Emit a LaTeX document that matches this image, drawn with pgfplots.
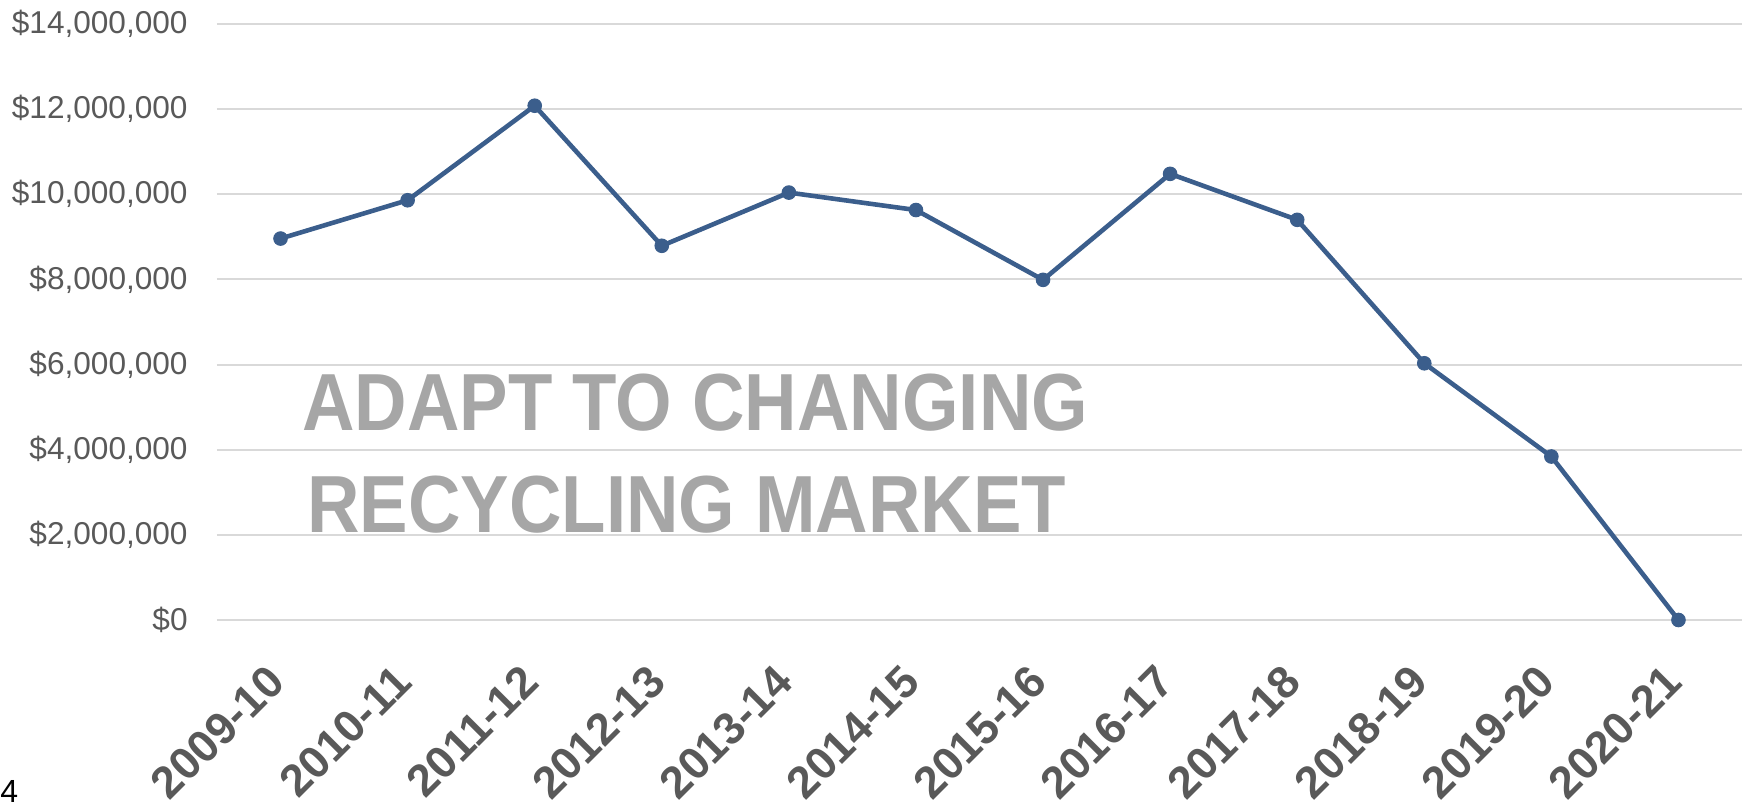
\documentclass[border=0pt]{standalone}
\usepackage{pgfplots}
\pgfplotsset{compat=1.18}
\usepackage{fontspec}
\setmainfont{Liberation Sans}
\definecolor{linec}{RGB}{59,94,140}
\definecolor{gridc}{RGB}{217,217,217}
\definecolor{labc}{RGB}{89,89,89}
\definecolor{wmc}{RGB}{166,166,166}
\begin{document}
\begin{tikzpicture}
\useasboundingbox (-108.5pt,-94pt) rectangle (762.5pt,310pt);
\begin{axis}[
  at={(0,0)}, anchor=south west,
  scale only axis, width=762.5pt, height=298pt,
  xmin=-0.5, xmax=11.5, ymin=0, ymax=14000000,
  clip=false,
  axis line style={draw=none},
  major tick length=0pt,
  ymajorgrids, grid style={gridc, line width=1pt},
  xtick={0,1,2,3,4,5,6,7,8,9,10,11},
  xticklabels={2009-10,2010-11,2011-12,2012-13,2013-14,2014-15,2015-16,2016-17,2017-18,2018-19,2019-20,2020-21},
  ytick={0,2000000,4000000,6000000,8000000,10000000,12000000,14000000},
  yticklabels={{\$0},{\$2,000,000},{\$4,000,000},{\$6,000,000},{\$8,000,000},{\$10,000,000},{\$12,000,000},{\$14,000,000}},
  scaled y ticks=false,
  xticklabel style={font=\bfseries\fontsize{22.5}{22.5}\selectfont, text=labc, xshift=-8pt, rotate=45, anchor=north east, inner sep=0pt},
  xticklabel shift=21pt,
  yticklabel style={font=\fontsize{15.8}{15.8}\selectfont, text=labc, anchor=east, inner sep=0pt},
  yticklabel shift=14.5pt,
]
\addplot[linec, line width=2.3pt, mark=*, mark size=3.4pt, mark options={fill=linec, draw=linec, line width=0.5pt}]
coordinates {
(0,8960000) (1,9860000) (2,12080000) (3,8790000) (4,10040000) (5,9630000)
(6,7990000) (7,10480000) (8,9400000) (9,6030000) (10,3840000) (11,0)
};
\end{axis}
\node[anchor=base west, inner sep=0pt, text=wmc, font=\bfseries\fontsize{40.5}{40.5}\selectfont, xscale=0.897] at (42.5pt,94.5pt) {ADAPT TO CHANGING};
\node[anchor=base west, inner sep=0pt, text=wmc, font=\bfseries\fontsize{40.5}{40.5}\selectfont, xscale=0.897] at (45pt,43.5pt) {RECYCLING MARKET};
\node[anchor=base west, inner sep=0pt, font=\fontsize{16}{16}\selectfont] at (-108.5pt,-91.5pt) {4};
\end{tikzpicture}
\end{document}
